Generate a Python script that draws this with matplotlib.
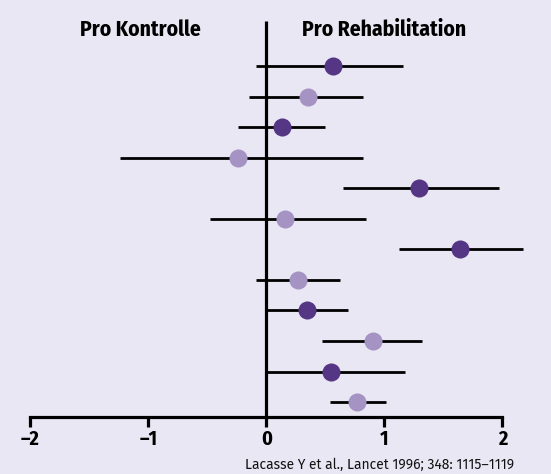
import matplotlib
matplotlib.use("Agg")
import matplotlib.pyplot as plt

# effect sizes with confidence intervals, top row first
effect = [0.56, 0.35, 0.13, -0.24, 1.29, 0.16, 1.64, 0.27, 0.34, 0.90, 0.55, 0.77]
ci_low = [-0.09, -0.15, -0.24, -1.24, 0.65, -0.48, 1.12, -0.09, 0.0, 0.47, 0.0, 0.54]
ci_high = [1.16, 0.82, 0.50, 0.82, 1.97, 0.84, 2.17, 0.62, 0.69, 1.32, 1.17, 1.01]
tick_values = [-2, -1, 0, 1, 2]
tick_labels = ["\u20132", "\u20131", "0", "1", "2"]

dark = "#553684"
light = "#a593c4"
bg = "#e9e7f3"
font = ["Fira Sans Condensed", "DejaVu Sans"]
cite_font = ["Fira Sans", "DejaVu Sans"]

fig = plt.figure(figsize=(5.51, 4.74), dpi=100, facecolor=bg)
ax = fig.add_axes([0, 0, 1, 1], facecolor=bg)

rows = list(range(len(effect)))
for i in rows:
    col = dark if i % 2 == 0 else light
    ax.plot([ci_low[i], ci_high[i]], [i, i], color="black", lw=2.0,
            solid_capstyle="butt", zorder=2)
    ax.plot(effect[i], i, "o", ms=13, color=col, mec="none", zorder=3)

# row pixel geometry: first row at 66px, step 30.55px
axis_y = 11.49
ax.set_xlim(-2.258, 2.411)
ax.set_ylim((474 - 66) / 30.55, -66 / 30.55)

# vertical line at zero
ax.plot([0, 0], [-1.47, axis_y], color="black", lw=2.3, zorder=1,
        solid_capstyle="butt")

for s in ["left", "right", "top"]:
    ax.spines[s].set_visible(False)
ax.spines["bottom"].set_position(("data", axis_y))
ax.spines["bottom"].set_bounds(-2, 2)
ax.spines["bottom"].set_linewidth(2.3)
ax.set_yticks([])
ax.set_xticks(tick_values)
ax.set_xticklabels(tick_labels, fontfamily=font, fontweight="bold", fontsize=14.5)
ax.tick_params(axis="x", direction="out", length=7, width=2.3, pad=2)

ax.text(140.5 / 551, 1 - 29.5 / 474, "Pro Kontrolle", transform=ax.transAxes,
        ha="center", va="center", fontfamily=font, fontweight="bold", fontsize=15.5)
ax.text(384 / 551, 1 - 29.5 / 474, "Pro Rehabilitation", transform=ax.transAxes,
        ha="center", va="center", fontfamily=font, fontweight="bold", fontsize=15.5)
ax.text(245 / 551, 1 - 465 / 474, "Lacasse Y et al., Lancet 1996; 348: 1115\u20131119",
        transform=ax.transAxes, ha="left", va="center", fontfamily=cite_font,
        fontsize=10, color="#111111")

fig.savefig("out.png", dpi=100, facecolor=bg)
